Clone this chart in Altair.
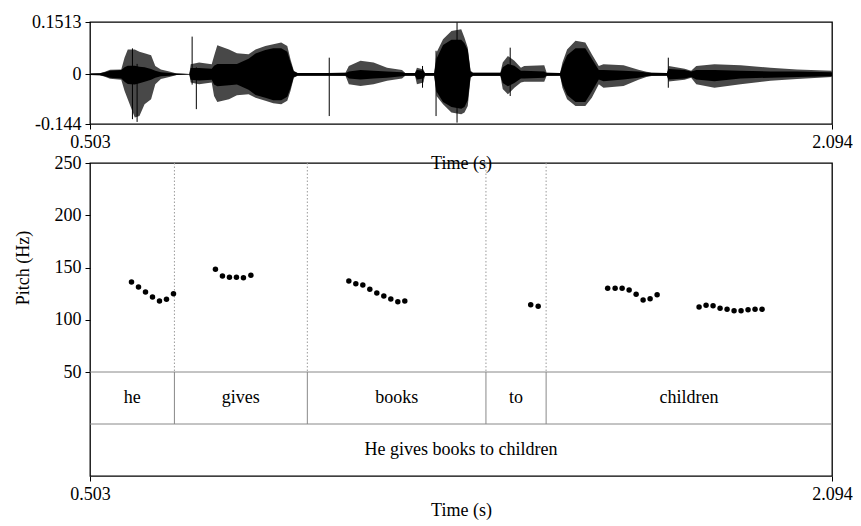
import altair as alt
import pandas as pd

# ---------------- data ----------------
t_start, t_end = 0.503, 2.094
amp_min, amp_max = -0.144, 0.1513

# waveform envelope (time s, upper / lower amplitude of the peaks)
wave_time = [0.503, 0.524, 0.535, 0.546, 0.570, 0.577, 0.584, 0.599, 0.609, 0.620, 0.634, 0.643, 0.655, 0.673,
             0.689, 0.716, 0.719, 0.737, 0.764, 0.769, 0.776, 0.801, 0.818, 0.843, 0.858, 0.879, 0.896,
             0.913, 0.926, 0.933, 0.940, 0.948, 1.012, 1.051, 1.058, 1.083, 1.111, 1.140, 1.172, 1.179,
             1.200, 1.204, 1.218, 1.221, 1.241, 1.246, 1.260, 1.278, 1.299,
             1.306, 1.313, 1.319, 1.324, 1.383, 1.388, 1.399, 1.413, 1.427, 1.434, 1.477, 1.482, 1.511,
             1.516, 1.526, 1.544, 1.565, 1.579, 1.594, 1.604, 1.647, 1.679, 1.696,
             1.707, 1.740, 1.744, 1.778, 1.792, 1.803, 1.842, 1.898, 1.962, 2.019, 2.094]
wave_upper = [0.002, 0.003, 0.007, 0.013, 0.014, 0.048, 0.072, 0.072, 0.065, 0.061, 0.055, 0.024, 0.014, 0.008,
              0.002, 0.001, 0.029, 0.034, 0.029, 0.053, 0.084, 0.072, 0.061, 0.058, 0.072, 0.082, 0.087,
              0.092, 0.082, 0.043, 0.010, 0.004, 0.004, 0.005, 0.024, 0.039, 0.034, 0.019, 0.012, 0.004,
              0.004, 0.019, 0.014, 0.004, 0.004, 0.063, 0.101, 0.125, 0.130,
              0.106, 0.077, 0.010, 0.005, 0.005, 0.034, 0.053, 0.039, 0.019, 0.024, 0.026, 0.005, 0.004,
              0.034, 0.072, 0.097, 0.092, 0.058, 0.024, 0.029, 0.026, 0.013, 0.007,
              0.005, 0.004, 0.024, 0.016, 0.010, 0.024, 0.029, 0.026, 0.019, 0.014, 0.010]
wave_lower = [-0.002, -0.003, -0.007, -0.013, -0.016, -0.048, -0.072, -0.125, -0.121, -0.087, -0.072, -0.029, -0.014, -0.008,
              -0.002, -0.001, -0.024, -0.029, -0.024, -0.063, -0.080, -0.072, -0.061, -0.058, -0.068, -0.077, -0.084,
              -0.087, -0.077, -0.048, -0.010, -0.004, -0.004, -0.005, -0.029, -0.034, -0.029, -0.019, -0.012, -0.004,
              -0.004, -0.029, -0.024, -0.004, -0.004, -0.063, -0.087, -0.111, -0.116,
              -0.111, -0.092, -0.010, -0.005, -0.005, -0.043, -0.058, -0.039, -0.024, -0.022, -0.022, -0.005, -0.004,
              -0.039, -0.072, -0.092, -0.092, -0.068, -0.029, -0.039, -0.034, -0.016, -0.008,
              -0.005, -0.004, -0.021, -0.016, -0.010, -0.029, -0.039, -0.029, -0.019, -0.014, -0.008]
# dense (solid black) core of the waveform at the same times
core_upper = [0.002, 0.003, 0.006, 0.010, 0.012, 0.020, 0.025, 0.025, 0.022, 0.020, 0.015, 0.010, 0.006, 0.004,
              0.002, 0.001, 0.018, 0.018, 0.016, 0.025, 0.030, 0.030, 0.030, 0.045, 0.060, 0.070, 0.075,
              0.075, 0.065, 0.035, 0.008, 0.004, 0.004, 0.004, 0.008, 0.012, 0.010, 0.008, 0.006, 0.004,
              0.004, 0.012, 0.010, 0.004, 0.004, 0.045, 0.085, 0.100, 0.100,
              0.090, 0.070, 0.008, 0.004, 0.004, 0.020, 0.030, 0.025, 0.010, 0.010, 0.008, 0.004, 0.004,
              0.025, 0.055, 0.075, 0.075, 0.045, 0.012, 0.012, 0.010, 0.008, 0.005,
              0.004, 0.004, 0.015, 0.012, 0.008, 0.012, 0.012, 0.010, 0.008, 0.008, 0.006]
core_lower = [-0.002, -0.003, -0.006, -0.010, -0.012, -0.022, -0.028, -0.030, -0.026, -0.022, -0.016, -0.010, -0.006, -0.004,
              -0.002, -0.001, -0.016, -0.018, -0.016, -0.030, -0.035, -0.032, -0.030, -0.045, -0.060, -0.068, -0.075,
              -0.075, -0.065, -0.040, -0.008, -0.004, -0.004, -0.004, -0.012, -0.015, -0.012, -0.010, -0.006, -0.004,
              -0.004, -0.015, -0.012, -0.004, -0.004, -0.050, -0.080, -0.095, -0.100,
              -0.095, -0.075, -0.008, -0.004, -0.004, -0.025, -0.035, -0.025, -0.012, -0.012, -0.010, -0.004, -0.004,
              -0.030, -0.060, -0.080, -0.080, -0.050, -0.015, -0.020, -0.015, -0.010, -0.006,
              -0.004, -0.004, -0.015, -0.012, -0.008, -0.015, -0.020, -0.012, -0.010, -0.008, -0.006]

# isolated peaks in the waveform
spike_time = [0.594, 0.604, 0.722, 0.731, 1.016, 1.216, 1.245, 1.290, 1.404, 1.743]
spike_upper = [0.075, 0.030, 0.109, 0.020, 0.048, 0.024, 0.068, 0.150, 0.077, 0.048]
spike_lower = [-0.130, -0.138, -0.030, -0.101, -0.121, -0.039, -0.121, -0.140, -0.063, -0.039]

# pitch track
pitch_time = [0.592, 0.607, 0.622, 0.637, 0.652, 0.667, 0.682,
              0.772, 0.787, 0.802, 0.817, 0.832, 0.848,
              1.058, 1.073, 1.088, 1.103, 1.118, 1.133, 1.148, 1.163, 1.178,
              1.448, 1.464,
              1.613, 1.629, 1.644, 1.659, 1.674, 1.689, 1.704, 1.719,
              1.809, 1.824, 1.839, 1.854, 1.869, 1.884, 1.899, 1.914, 1.929, 1.944]
pitch_hz = [136.1, 131.3, 126.6, 121.8, 117.9, 119.6, 124.9,
            148.3, 141.9, 140.6, 140.6, 140.2, 142.5,
            137.1, 134.5, 133.3, 129.1, 125.6, 122.7, 119.9, 117.3, 117.9,
            114.4, 112.9,
            130.1, 130.1, 130.1, 128.5, 124.4, 118.9, 120.1, 124.0,
            112.2, 113.8, 113.4, 110.9, 110.0, 108.7, 108.7, 109.6, 110.0, 110.0]

# text grid
word_labels = ["he", "gives", "books", "to", "children"]
word_bounds = [0.503, 0.684, 0.969, 1.352, 1.481, 2.094]
sentence_label = "He gives books to children"
tiers = ["words", "sentence"]

# ---------------- tables ----------------
wave_df = pd.DataFrame({"time": wave_time, "hi": wave_upper, "lo": wave_lower,
                        "chi": core_upper, "clo": core_lower})
spike_df = pd.DataFrame({"time": spike_time, "hi": spike_upper, "lo": spike_lower})
pitch_df = pd.DataFrame({"time": pitch_time, "hz": pitch_hz})
inner_bounds = word_bounds[1:-1]
bound_df = pd.DataFrame({"time": inner_bounds, "top": ["words"] * len(inner_bounds),
                         "bottom": ["sentence"] * len(inner_bounds)})
label_rows = [{"tier": "words", "label": w, "mid": (a + b) / 2}
              for w, a, b in zip(word_labels, word_bounds[:-1], word_bounds[1:])]
label_rows.append({"tier": "sentence", "label": sentence_label, "mid": (t_start + t_end) / 2})
label_df = pd.DataFrame(label_rows)
tier_df = pd.DataFrame({"tier": tiers})

FONT = "Liberation Serif"
W = 742
H_WAVE = 102
H_PITCH = 209
H_TIER = 104

xs = alt.Scale(domain=[t_start, t_end], nice=False, zero=False)
x_axis_top = alt.Axis(values=[t_start, t_end], format=".3f", title="Time (s)", tickSize=5,
                      labelPadding=4, titlePadding=3, domain=False)
x_axis = alt.Axis(values=[t_start, t_end], format=".3f", title="Time (s)", tickSize=5,
                  labelPadding=4, titlePadding=-2, domain=False)

# ---------------- waveform ----------------
amp_scale = alt.Scale(domain=[amp_min, amp_max], nice=False, zero=False)
amp_axis = alt.Axis(values=[amp_min, 0, amp_max], title=None, tickSize=5, labelPadding=4, domain=False,
                    labelExpr="datum.value < 0 ? '-' + format(-datum.value, '~g') : format(datum.value, '~g')")

wave_outer = alt.Chart(wave_df).mark_area(color="#484848", interpolate="linear").encode(
    x=alt.X("time:Q", scale=xs, axis=x_axis_top),
    y=alt.Y("hi:Q", scale=amp_scale, axis=amp_axis),
    y2="lo:Q",
)
wave_core = alt.Chart(wave_df).mark_area(color="black", interpolate="linear").encode(
    x=alt.X("time:Q", scale=xs, axis=x_axis_top),
    y=alt.Y("chi:Q", scale=amp_scale, axis=amp_axis),
    y2="clo:Q",
)
wave_spikes = alt.Chart(spike_df).mark_rule(color="black", strokeWidth=1).encode(
    x=alt.X("time:Q", scale=xs, axis=x_axis_top),
    y=alt.Y("hi:Q", scale=amp_scale, axis=amp_axis),
    y2="lo:Q",
)
wave = alt.layer(wave_outer, wave_core, wave_spikes).properties(width=W, height=H_WAVE)

# ---------------- pitch + text grid ----------------
pitch_scale = alt.Scale(domain=[50, 250], range=[H_PITCH, 0], nice=False, zero=False)
pitch_axis = alt.Axis(values=[50, 100, 150, 200, 250], title="Pitch (Hz)", tickSize=5, labelPadding=4,
                      titlePadding=22, domain=False)

dotted = alt.Chart(bound_df).mark_rule(color="#9a9a9a", strokeDash=[1.5, 2], strokeWidth=1).encode(
    x=alt.X("time:Q", scale=xs, axis=x_axis),
    y=alt.Y(datum=250, scale=pitch_scale, axis=pitch_axis),
    y2=alt.datum(50),
)
points = alt.Chart(pitch_df).mark_circle(size=30, color="black", opacity=1).encode(
    x=alt.X("time:Q", scale=xs, axis=x_axis),
    y=alt.Y("hz:Q", scale=pitch_scale, axis=pitch_axis),
)
pitch_layer = alt.layer(dotted, points)

tier_scale = alt.Scale(domain=tiers, range=[H_PITCH, H_PITCH + H_TIER], paddingInner=0, paddingOuter=0)

tier_lines = alt.Chart(tier_df).mark_rule(color="#888888", strokeWidth=1).encode(
    y=alt.Y("tier:N", scale=tier_scale, axis=None, bandPosition=0),
)
word_lines = alt.Chart(bound_df).mark_rule(color="#888888", strokeWidth=1).encode(
    x=alt.X("time:Q", scale=xs, axis=x_axis),
    y=alt.Y("top:N", scale=tier_scale, axis=None, bandPosition=0),
    y2=alt.Y2("bottom:N", bandPosition=0),
)
tier_text = alt.Chart(label_df).mark_text(font=FONT, fontSize=18, color="black").encode(
    x=alt.X("mid:Q", scale=xs, axis=x_axis),
    y=alt.Y("tier:N", scale=tier_scale, axis=None),
    text="label:N",
)
tier_layer = alt.layer(tier_lines, word_lines, tier_text)

lower = alt.layer(pitch_layer, tier_layer).resolve_scale(y="independent").properties(
    width=W, height=H_PITCH + H_TIER)

chart = alt.vconcat(wave, lower, spacing=39, bounds="flush").resolve_scale(
    y="independent"
).properties(
    padding={"left": 5, "top": 4, "right": 0, "bottom": 0},
    background="white",
).configure_view(
    stroke="black", strokeWidth=1.3
).configure_axis(
    labelFont=FONT, labelFontSize=18, titleFont=FONT, titleFontSize=18, titleFontWeight="normal",
    labelColor="black", titleColor="black", tickColor="black", tickWidth=1, grid=False,
    labelFlush=False, labelOverlap=False, labelBound=False,
)

chart.save("out.html", embed_options={"renderer": "svg", "actions": False})
